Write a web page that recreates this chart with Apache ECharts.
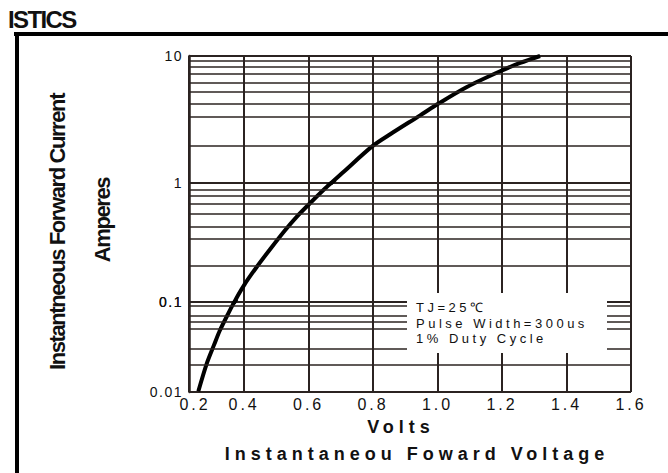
<!DOCTYPE html>
<html>
<head>
<meta charset="utf-8">
<script src="https://cdn.jsdelivr.net/npm/echarts@6.0.0/dist/echarts.min.js"></script>
<style>
html,body{margin:0;padding:0;background:#fff;}
#chart{width:668px;height:473px;}
/* echarts has no letter spacing option, the scan's lettering is widely tracked
   (and the side titles are a narrow face, squeezed here) */
#chart text[style*="13px"]{letter-spacing:3.5px;}
#chart text[style*="14px"]{letter-spacing:1.5px;}
#chart text[style*="16px"]{letter-spacing:3px;}
#chart text[style*="18px"]{letter-spacing:5px;}
#chart text[style*="22px"]{letter-spacing:-1.4px;}
#chart text[style*="24px"]{letter-spacing:-1.6px;}
</style>
</head>
<body>
<div id="chart"></div>
<script>
// forward voltage (V) / forward current (A)
const voltage=[0.258,0.284,0.307,0.325,0.348,0.370,0.401,0.439,0.486,0.527,0.563,0.605,0.656,0.708,0.798,0.853,0.946,1.003,1.091,1.194,1.256,1.318];
const current=[0.0102,0.0207,0.0336,0.0485,0.0712,0.1,0.140,0.197,0.290,0.401,0.52,0.679,0.925,1.22,1.95,2.42,3.41,4.22,5.70,7.58,8.81,10];

const voltRange=[0.229,1.6];//left edge of the drawn grid sits a bit right of 0.2
const decades=[[1,10],[0.1,1],[0.01,0.1]];
// minor rulings of each decade as drawn on the sheet
const minorLines=[
    [9.1,8.2,7.3,6.2,5.2,4.2,3.3,1.95],
    [0.88,0.78,0.67,0.55,0.43,0.34,0.195],
    [0.085,0.071,0.059,0.046,0.034,0.024]
];
const notes=['TJ=25℃','Pulse Width=300us','1% Duty Cycle'];
const yTitle=['Instantneous Forward Current','Amperes'];
const xTitle=['Volts','Instantaneou Foward Voltage'];

// the printed decades are not equally tall, so each one gets its own grid
const gridTops=[56,183,302];
const gridHeights=[127,119,90];
const ink='#2b2321';
const txt='#111';

let chart=echarts.init(document.getElementById('chart'),null,{renderer:'svg'});
let curve=voltage.map((v,i)=>[v,current[i]]);

let grid=[],xAxis=[],yAxis=[],series=[];
decades.forEach((d,i)=>{
    let last=i===decades.length-1;
    grid.push({left:189,right:37,top:gridTops[i],height:gridHeights[i]});
    xAxis.push({
        type:'value',
        gridIndex:i,
        min:voltRange[0],
        max:voltRange[1],
        splitNumber:7,
        axisLine:{show:false},
        axisTick:{show:false},
        axisLabel:{
            show:last,
            showMinLabel:true,
            margin:4,
            color:txt,
            fontSize:16,
            fontFamily:'Liberation Sans',
            formatter:function(v){
                return v<0.3?'{first|0.2}':v.toFixed(1);
            },
            rich:{
                first:{fontSize:16,fontFamily:'Liberation Sans',color:txt,padding:[0,0,0,12]},
            },
        },
        splitLine:{show:true,lineStyle:{color:ink,width:2}},
    });
    yAxis.push({
        type:'log',
        logBase:10,
        gridIndex:i,
        min:d[0],
        max:d[1],
        axisLine:{show:true,lineStyle:{color:ink,width:2.5}},
        axisTick:{show:false},
        axisLabel:{
            showMinLabel:true,
            showMaxLabel:i===0,
            margin:6,
            color:txt,
            fontSize:14,
            fontFamily:'Liberation Sans',
        },
        splitLine:{show:true,lineStyle:{color:ink,width:2}},
    });
    series.push({
        type:'line',
        xAxisIndex:i,
        yAxisIndex:i,
        data:curve,
        showSymbol:false,
        smooth:0.3,
        silent:true,
        lineStyle:{color:'#000',width:4},
        markLine:{
            silent:true,
            symbol:['none','none'],
            label:{show:false},
            lineStyle:{color:ink,width:1.6,type:'solid'},
            emphasis:{disabled:true},
            data:minorLines[i].map(v=>({yAxis:v})),
        },
    });
});

let sans='"Liberation Sans",Arial,sans-serif';
let graphic=[
    {type:'line',shape:{x1:14,y1:34,x2:668,y2:34},style:{stroke:'#000',lineWidth:4}},
    {type:'line',shape:{x1:17,y1:32,x2:17,y2:473},style:{stroke:'#000',lineWidth:4}},
    {type:'text',x:8,y:19,style:{text:'ISTICS',font:'bold 24px '+sans,fill:txt,textAlign:'left',textVerticalAlign:'middle'}},
    {type:'text',x:57,y:232,rotation:Math.PI/2,style:{text:yTitle[0],font:'bold 22px '+sans,fill:txt,textAlign:'center',textVerticalAlign:'middle'}},
    {type:'text',x:102,y:220,rotation:Math.PI/2,style:{text:yTitle[1],font:'bold 22px '+sans,fill:txt,textAlign:'center',textVerticalAlign:'middle'}},
    {type:'text',x:401,y:427,style:{text:xTitle[0],font:'bold 18px '+sans,fill:txt,textAlign:'center',textVerticalAlign:'middle'}},
    {type:'text',x:417,y:454,style:{text:xTitle[1],font:'bold 18px '+sans,fill:txt,textAlign:'center',textVerticalAlign:'middle'}},
    {type:'rect',z:100,shape:{x:407,y:293,width:200,height:60},style:{fill:'#fff'}},
];
notes.forEach((t,i)=>{
    graphic.push({type:'text',z:101,x:416,y:307.5+i*15.5,style:{text:t,font:'13px '+sans,fill:txt,textAlign:'left',textVerticalAlign:'middle'}});
});

chart.setOption({
    animation:false,
    backgroundColor:'#fff',
    grid:grid,
    xAxis:xAxis,
    yAxis:yAxis,
    series:series,
    graphic:graphic,
});
</script>
</body>
</html>
